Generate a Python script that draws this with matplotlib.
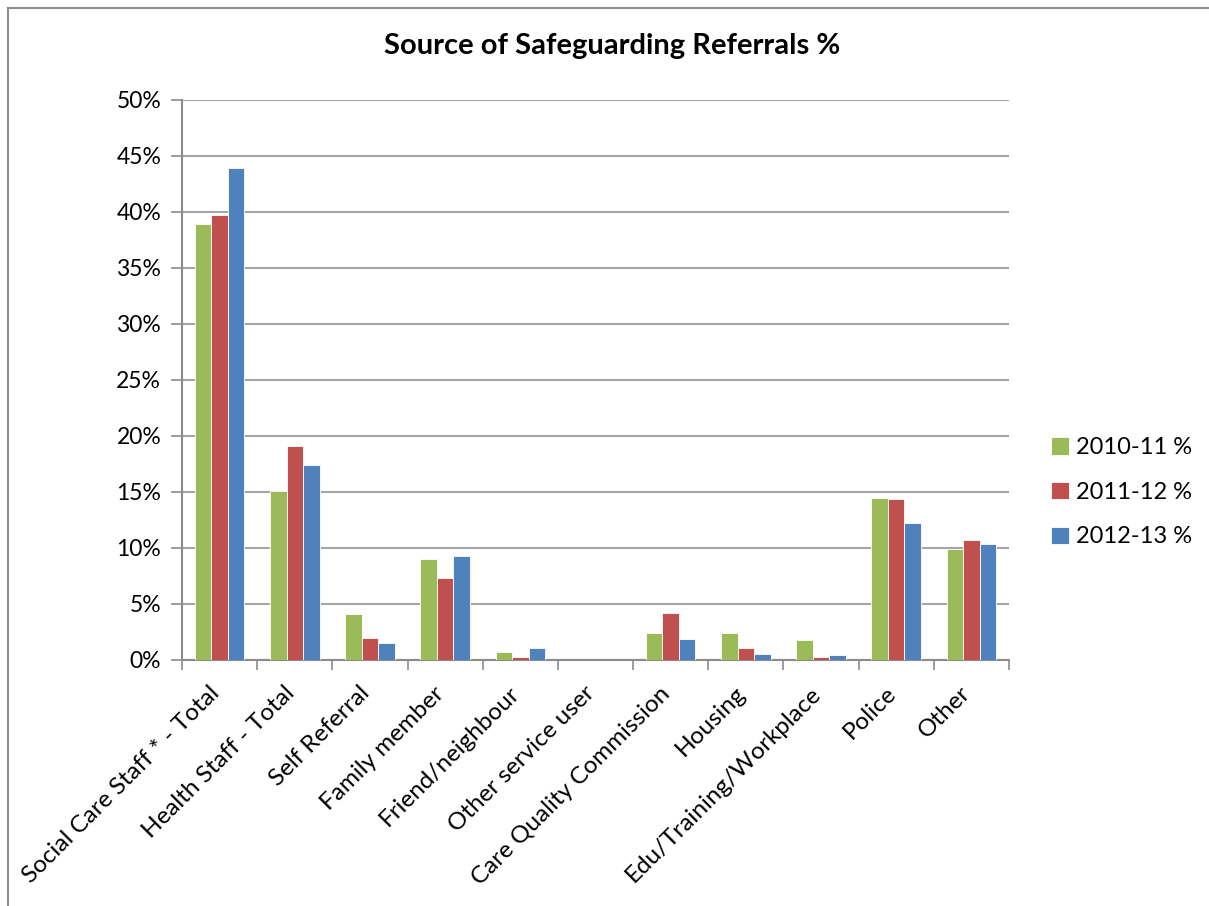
import matplotlib
matplotlib.use("Agg")
import matplotlib.pyplot as plt
import numpy as np
from matplotlib.ticker import FuncFormatter, MultipleLocator
from matplotlib.lines import Line2D
from matplotlib.transforms import ScaledTranslation

categories = ["Social Care Staff * - Total", "Health Staff - Total", "Self Referral",
              "Family member", "Friend/neighbour", "Other service user",
              "Care Quality Commission", "Housing", "Edu/Training/Workplace",
              "Police", "Other"]
series_names = ["2010-11 %", "2011-12 %", "2012-13 %"]
v2010 = [38.9, 15.1, 4.1, 9.0, 0.7, 0.0, 2.4, 2.4, 1.8, 14.5, 9.9]
v2011 = [39.7, 19.1, 2.0, 7.3, 0.27, 0.0, 4.2, 1.1, 0.24, 14.4, 10.7]
v2012 = [43.9, 17.4, 1.5, 9.3, 1.05, 0.0, 1.9, 0.55, 0.42, 12.2, 10.4]
colors = ["#9BBB59", "#C0504D", "#4F81BD"]

plt.rcParams['font.family'] = ['Lato', 'DejaVu Sans']

W, H = 1209, 906
fig = plt.figure(figsize=(W / 100, H / 100), dpi=100)
left, right, top, bottom = 182, 1009, 100, 660
ax = fig.add_axes([left / W, 1 - bottom / H, (right - left) / W, (bottom - top) / H])

x = np.arange(len(categories))
bw = 0.22
for i, (vals, c, name) in enumerate(zip([v2010, v2011, v2012], colors, series_names)):
    ax.bar(x + (i - 1) * bw, vals, width=bw, color=c, edgecolor="white", linewidth=0.6,
           label=name, zorder=3)

ax.set_xlim(-0.5, len(categories) - 0.5)
ax.set_ylim(0, 50)
ax.yaxis.set_major_locator(MultipleLocator(5))
ax.yaxis.set_major_formatter(FuncFormatter(lambda v, p: f"{int(round(v))}%"))
ax.grid(axis="y", color="#A6A6A6", linewidth=1.5, zorder=0)
for s in ["top", "right"]:
    ax.spines[s].set_visible(False)
for s in ["left", "bottom"]:
    ax.spines[s].set_color("#8C8C8C")
    ax.spines[s].set_linewidth(1.5)
ax.tick_params(axis="y", length=8, width=1.2, color="#8C8C8C", labelsize=16.5, pad=7)
ax.set_xticks(np.arange(len(categories) + 1) - 0.5, minor=False)
ax.set_xticklabels([])
ax.tick_params(axis="x", length=7, width=1.2, color="#8C8C8C")
offset = ScaledTranslation(-4 / 100, -30 / 100, fig.dpi_scale_trans)
for xi, lab in zip(x, categories):
    ax.text(xi, 0, lab, rotation=45, rotation_mode="anchor", ha="right", va="center",
            fontsize=17.5, transform=ax.transData + offset, clip_on=False)

fig.text(612 / W, 1 - 46 / H, "Source of Safeguarding Referrals %", ha="center", va="center",
         fontsize=21, fontweight="bold")

leg = fig.legend(loc="upper left", bbox_to_anchor=(1030 / W, 1 - 416 / H), frameon=False,
                 fontsize=17, handlelength=0.75, handleheight=0.75, handletextpad=0.3,
                 labelspacing=1.0)

# chart border (top and left)
fig.add_artist(Line2D([8 / W, 1], [1 - 8 / H, 1 - 8 / H], color="#8C8C8C", linewidth=1.5,
                      transform=fig.transFigure))
fig.add_artist(Line2D([8 / W, 8 / W], [0, 1 - 8 / H], color="#8C8C8C", linewidth=1.5,
                      transform=fig.transFigure))

fig.savefig("out.png", dpi=100)
